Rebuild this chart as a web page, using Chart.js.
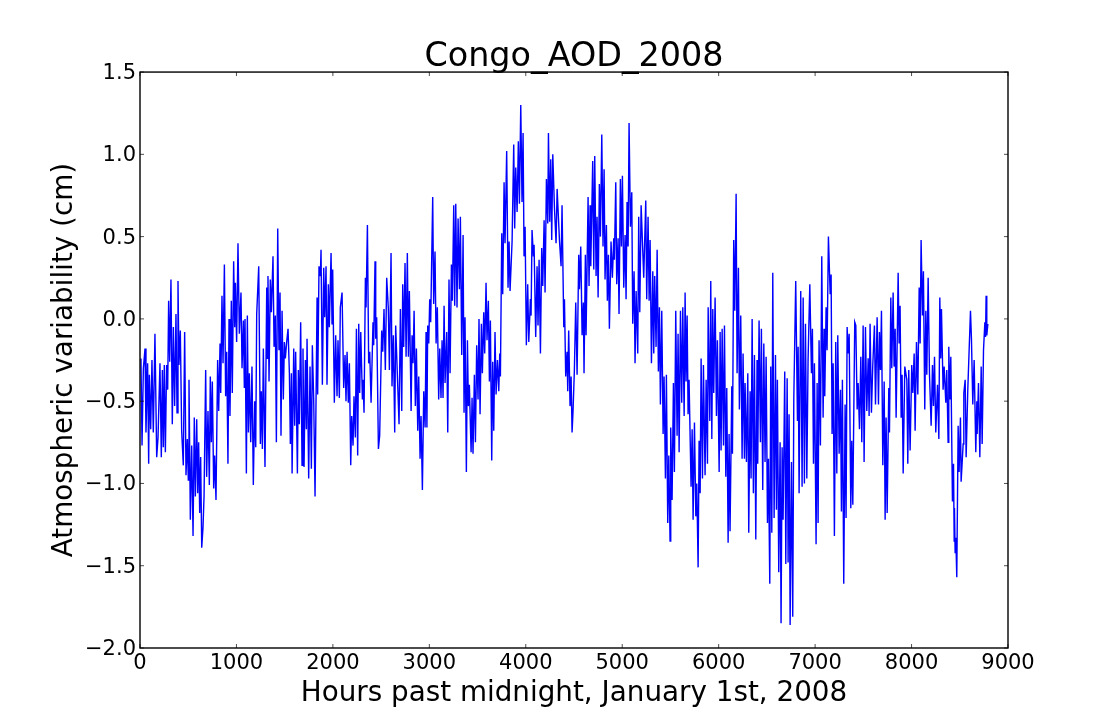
<!DOCTYPE html>
<html>
<head>
<meta charset="utf-8">
<title>Congo_AOD_2008</title>
<script src="https://cdn.jsdelivr.net/npm/chart.js@4/dist/chart.umd.min.js"></script>
<style>
    html, body { margin: 0; padding: 0; background: #ffffff; }
    canvas { display: block; }
</style>
</head>
<body>
<canvas id="aodChart" width="1120" height="720"></canvas>
<script>
// Values
const hours = [
    10,21,35,52,62,79,90,97,111,124,
    138,155,173,187,207,221,232,242,252,263,
    276,287,297,308,321,335,346,359,373,384,
    394,404,418,432,449,463,477,491,501,508,
    522,536,550,563,574,588,598,608,619,629,
    640,653,664,681,691,705,719,729,740,750,
    764,774,788,805,816,830,837,850,861,875,
    888,899,912,923,933,947,957,971,982,989,
    1002,1016,1030,1047,1058,1072,1082,1089,1103,1113,
    1124,1134,1148,1161,1175,1189,1200,1210,1231,1248,
    1258,1269,1279,1296,1314,1320,1327,1338,1351,1362,
    1379,1390,1403,1414,1428,1441,1452,1462,1473,1486,
    1497,1507,1521,1535,1549,1559,1570,1577,1594,1604,
    1614,1632,1642,1652,1666,1680,1690,1701,1715,1725,
    1732,1749,1763,1777,1787,1801,1815,1836,1842,1856,
    1870,1877,1891,1905,1915,1929,1939,1953,1963,1981,
    1991,1998,2015,2029,2043,2053,2067,2077,2095,2112,
    2126,2136,2147,2160,2171,2185,2195,2209,2219,2233,
    2244,2257,2268,2278,2289,2306,2313,2323,2337,2344,
    2358,2371,2382,2396,2416,2423,2437,2444,2454,2472,
    2485,2506,2517,2530,2544,2558,2575,2586,2603,2613,
    2627,2641,2651,2686,2700,2714,2724,2734,2748,2759,
    2772,2783,2793,2811,2821,2831,2842,2855,2866,2880,
    2890,2904,2914,2928,2942,2956,2966,2975,2983,2994,
    3004,3014,3035,3045,3059,3070,3083,3097,3108,3121,
    3132,3142,3153,3163,3180,3191,3204,3215,3229,3239,
    3253,3263,3274,3287,3298,3312,3322,3336,3350,3360,
    3370,3384,3395,3405,3415,3433,3443,3453,3467,3478,
    3491,3505,3515,3526,3540,3550,3564,3574,3588,3598,
    3612,3623,3633,3647,3657,3668,3681,3692,3706,3720,
    3730,3737,3751,3761,3775,3785,3802,3816,3827,3837,
    3858,3875,3885,3896,3910,3923,3934,3948,3961,3972,
    3982,3993,4006,4020,4031,4048,4055,4065,4079,4086,
    4103,4117,4127,4138,4152,4165,4176,4190,4200,4214,
    4228,4235,4248,4259,4269,4280,4297,4314,4325,4349,
    4366,4376,4394,4401,4414,4428,4435,4445,4459,4470,
    4480,4490,4504,4518,4532,4549,4556,4570,4584,4597,
    4604,4618,4625,4646,4656,4667,4674,4694,4705,4715,
    4729,4739,4750,4763,4774,4788,4801,4812,4822,4836,
    4846,4857,4867,4884,4898,4912,4919,4933,4943,4957,
    4967,4981,4992,5002,5016,5030,5040,5050,5061,5071,
    5085,5099,5109,5123,5133,5144,5161,5171,5182,5196,
    5223,5244,5254,5268,5279,5289,5303,5317,5327,5337,
    5351,5362,5375,5386,5396,5410,5424,5434,5448,5458,
    5472,5483,5496,5503,5517,5531,5541,5555,5569,5579,
    5590,5604,5617,5628,5642,5652,5662,5673,5683,5693,
    5714,5725,5735,5749,5763,5773,5787,5797,5808,5818,
    5832,5842,5859,5870,5884,5891,5908,5918,5929,5939,
    5949,5963,5977,5987,6005,6015,6025,6036,6050,6060,
    6074,6084,6098,6108,6118,6136,6143,6156,6167,6181,
    6191,6205,6215,6229,6243,6253,6267,6274,6288,6302,
    6312,6326,6336,6347,6360,6371,6385,6398,6405,6419,
    6433,6443,6457,6468,6481,6492,6506,6516,6530,6540,
    6551,6561,6575,6589,6599,6609,6623,6637,6647,6658,
    6668,6685,6696,6710,6720,6730,6741,6755,6768,6779,
    6799,6817,6824,6834,6851,6865,6876,6889,6900,6914,
    6927,6945,6962,6972,6983,6993,7010,7021,7031,7041,
    7055,7069,7083,7093,7100,7114,7124,7138,7156,7166,
    7176,7187,7200,7214,7225,7235,7249,7263,7273,7283,
    7297,7311,7321,7332,7342,7353,7370,7380,7391,7411,
    7422,7436,7446,7460,7474,7484,7498,7508,7522,7536,
    7550,7560,7570,7584,7598,7615,7626,7643,7657,7667,
    7678,7688,7702,7716,7726,7736,7747,7764,7771,7785,
    7795,7809,7819,7830,7840,7861,7871,7881,7892,7902,
    7913,7930,7951,7961,7971,7985,8002,8013,8027,8037,
    8051,8065,8079,8089,8099,8113,8123,8137,8148,8158,
    8172,8186,8203,8217,8227,8238,8251,8269,8283,8293,
    8303,8310,8327,8338,8355,8365,8379,8386,8397,8407,
    8424,8435,8442,8445,8452,8459,8469,8483,8493,8507,
    8514,8535,8542,8556,8566,8583,8611,8621,8635,8649,
    8666,8677,8680,8694,8708,8722,8732,8746,8760,8767,
    8773,8780,8791
];

const variability = [
    -.24,-.77,-.30,-.18,-.69,-.27,-.88,-.34,-.67,-.25,
    -.69,-.09,-.84,-.72,-.27,-.84,-.31,-.78,-.28,-.81,
    -.28,-.43,.11,-.26,.24,-.64,-.05,-.53,.03,-.57,
    .23,-.28,-.07,-.68,-.89,-.08,-.95,-.73,-.98,-.37,
    -1.22,-.77,-1.32,-.60,-1.08,-.61,-1.06,-.75,-1.18,-.84,
    -1.39,-1.27,-1.08,-.31,-.96,-.56,-1.01,-.35,-.75,-.38,
    -1.03,-.83,-1.10,-.25,-.56,-.15,-.45,.14,-.27,.33,
    -.47,-.20,-.88,0,-.59,.11,-.45,.35,-.05,.22,
    -.14,.46,-.09,.16,-.30,-.01,-.42,0,-.94,.02,
    -.69,-.33,-.75,-.29,-1.01,-.50,-.78,.03,.32,-.76,
    -.44,-.79,-.18,-.90,.19,-.24,.26,-.38,.24,.04,
    .38,-.17,.02,-.75,.55,-.19,.16,-.71,.05,-.49,
    -.14,-.24,-.14,-.06,-.33,-.76,-.33,-.94,-.18,-.65,
    -.20,-.94,-.31,-.64,-.02,-.89,-.18,-.90,-.25,-.67,
    -.12,-.97,-.29,-.91,-.16,-.49,-1.08,.13,-.46,.32,
    .26,.42,-.40,.31,.01,.32,-.40,.21,-.05,.40,
    -.03,.30,-.51,-.10,-.47,-.13,-.48,.07,.16,-.42,
    -.22,-.50,-.20,-.51,-.27,-.89,-.59,-.77,-.47,-.72,
    -.06,-.83,-.03,-.45,-.08,-.49,-.37,-.57,.25,.07,
    .57,-.27,-.20,-.51,-.02,-.16,.35,-.12,.01,-.79,
    -.71,-.07,-.20,.06,-.31,.25,.06,-.31,.40,-.41,
    -.10,-.69,-.04,-.64,.06,-.56,.21,-.17,.34,-.23,
    .40,-.23,.17,-.56,-.10,-.27,.05,-.53,-.18,-.68,
    -.35,-.85,-.59,-1.04,-.44,-.66,-.08,-.66,-.04,-.15,
    .12,-.02,.74,.09,.41,-.15,.07,-.49,-.18,-.48,
    -.13,-.48,.08,-.39,-.08,-.69,.24,-.33,.33,.11,
    .69,.08,.70,.07,.61,.18,.62,-.22,.51,-.57,
    .01,-.93,-.13,-.53,-.40,-.81,-.48,-.82,-.34,-.75,
    -.16,-.49,0,-.58,-.03,-.33,.04,-.21,.22,-.13,
    .11,-.38,-.01,-.86,-.26,-.68,-.08,-.46,-.25,-.44,
    -.21,-.35,.52,.15,.83,.46,1.02,.19,.47,.17,
    .47,1.06,.55,.92,.65,1.08,.70,1.30,.71,1.13,
    .38,.56,-.16,.21,-.14,.12,.02,.54,.38,.45,
    -.11,.32,-.04,.36,-.21,.43,.20,.60,.16,.85,
    .58,1.13,.59,.97,.48,1.0,.68,.46,.79,.48,
    .32,.69,-.05,.12,-.35,-.20,-.44,-.07,-.53,-.35,
    -.69,-.56,-.31,.10,-.34,.39,.18,.44,-.10,.10,
    -.33,.39,-.10,.74,.20,.69,.32,.96,.30,.99,
    .26,.62,.13,.82,.50,1.12,.44,.91,.24,.57,
    .11,.39,-.06,.47,.25,.49,.36,.83,.21,.49,
    .03,.85,.44,.87,.19,.51,.12,.71,.44,1.19,
    .56,.77,-.03,.29,-.27,.17,-.21,.62,.04,.69,
    .25,.72,.12,.62,.11,.48,-.27,.29,-.21,.26,
    -.17,.42,-.32,.07,-.52,.05,-.70,-.35,-.97,-.34,
    -1.24,-.83,-1.35,-.66,-1.10,-.39,-.93,.05,-.71,-.09,
    -.81,.05,-.51,.07,-.59,.16,-.38,.02,-.58,-.37,
    -1.02,-.67,-1.22,-.63,-1.20,-1.0,-1.51,-.74,-1.06,-.24,
    -.97,-.28,-.95,-.37,-.88,.07,-.62,.23,-.73,.06,
    -.45,.13,-.59,-.13,-.93,-.08,-.80,-.06,-.77,-.04,
    -.96,-.42,-1.36,-.70,-1.29,-.41,-.82,.48,.05,.76,
    -.33,.31,-.55,.02,-.85,-.21,-.85,-.39,-.87,-.33,
    -1.30,-.44,-.97,0,-1.06,-.22,-1.34,-.25,-.88,-.01,
    -.75,-.06,-1.04,-.15,-.87,-.23,-1.24,-.85,-1.61,-.29,
    -1.30,.28,-1.21,-.22,-1.16,-.37,-1.54,-.75,-1.85,-.78,
    -1.22,-.32,-1.49,-.36,-1.48,-.58,-1.86,-.87,-1.81,-.49,
    .23,-.62,-.17,-1.06,.17,-1.02,.13,-1.0,-.03,-.97,
    -.25,.21,-.33,-.06,-.88,-.27,-1.37,-.39,-1.24,-.13,
    -.77,.38,-.60,-.06,-.47,.07,-.19,.50,.15,.27,
    -.70,-.27,-1.32,-.14,-.94,-.10,-.82,-.43,-1.17,-.37,
    -1.61,-.52,-1.21,-.05,-.21,-.09,-1.15,-.74,-1.13,-.02,
    -.04,-.55,-.39,-.67,-.23,-.75,-.04,-.87,-.05,-.56,
    -.24,-.59,-.03,-.57,-.28,-.04,-.52,.01,-.52,-.08,
    -.31,.05,-.89,-.38,-1.22,-.60,-1.18,-.42,-.69,.13,
    -.30,.16,-.29,-.06,-.60,.28,-.15,.08,-.60,-.34,
    -.94,-.29,-.37,-.88,-.31,-.80,-.28,-.45,-.21,-.68,
    -.14,-.46,.19,-.15,.48,.02,.29,-.55,.05,-.34,
    .25,-.34,-.65,-.28,-.53,-.23,-.69,-.40,-.73,.13,
    -.24,.06,-.43,-.29,-.51,-.31,-.75,-.17,-.49,-.23,
    -1.11,-.88,-1.35,-1.15,-1.42,-1.33,-1.57,-.65,-.93,-.60,
    -.99,-.76,-.45,-.37,-.84,-.43,.05,-.12,-.52,-.25,
    -.81,-.50,-.70,-.39,-.84,-.29,-.76,-.19,-.02,-.11,
    .14,-.10,-.03
];

const axisMin = { x: 0, y: -2 };
const axisMax = { x: 9000, y: 1.5 };

// Inward ticks on all four sides plus the closed frame
const frameTicks = {
    id: 'frameTicks',
    afterDatasetsDraw(chart) {
        const { ctx, chartArea: a, scales } = chart;
        const len = 4;
        ctx.save();
        ctx.strokeStyle = '#000000';
        ctx.lineWidth = 0.7;
        ctx.beginPath();
        scales.x.ticks.forEach(t => {
            const px = scales.x.getPixelForValue(t.value);
            ctx.moveTo(px, a.bottom);
            ctx.lineTo(px, a.bottom - len);
            ctx.moveTo(px, a.top);
            ctx.lineTo(px, a.top + len);
        });
        scales.y.ticks.forEach(t => {
            const py = scales.y.getPixelForValue(t.value);
            ctx.moveTo(a.left, py);
            ctx.lineTo(a.left + len, py);
            ctx.moveTo(a.right, py);
            ctx.lineTo(a.right - len, py);
        });
        ctx.stroke();
        ctx.lineWidth = 1.4;
        ctx.strokeRect(a.left, a.top, a.right - a.left, a.bottom - a.top);
        ctx.restore();
    }
};

const fontFamily = '"DejaVu Sans", sans-serif';

new Chart(document.getElementById('aodChart').getContext('2d'), {
    type: 'scatter',
    data: {
        datasets: [{
            label: 'Congo_AOD_2008',
            data: hours.map((h, i) => ({ x: h, y: variability[i] })),
            showLine: true,
            borderColor: '#0000ff',
            borderWidth: 1.4,
            pointRadius: 0,
            tension: 0
        }]
    },
    options: {
        responsive: false,
        animation: false,
        layout: { padding: { left: 0, right: 112, top: 0, bottom: 0 } },
        plugins: {
            legend: { display: false },
            tooltip: { enabled: false },
            title: {
                display: true,
                text: 'Congo_AOD_2008',
                fullSize: false,
                color: '#000000',
                font: { family: fontFamily, size: 33.4, weight: 'normal', lineHeight: 0.9 },
                padding: { top: 42, bottom: 0 }
            }
        },
        scales: {
            x: {
                type: 'linear',
                min: axisMin.x,
                max: axisMax.x,
                afterFit(scale) { scale.height = 72; },
                grid: { display: false, drawTicks: false },
                border: { display: false },
                ticks: {
                    stepSize: 1000,
                    maxRotation: 0,
                    padding: 3,
                    color: '#000000',
                    font: { family: fontFamily, size: 21 },
                    callback: v => String(v)
                },
                title: {
                    display: true,
                    text: 'Hours past midnight, January 1st, 2008',
                    color: '#000000',
                    font: { family: fontFamily, size: 27.8 },
                    padding: { top: 0, bottom: 10 }
                }
            },
            y: {
                type: 'linear',
                min: axisMin.y,
                max: axisMax.y,
                afterFit(scale) { scale.width = 140; },
                grid: { display: false, drawTicks: false },
                border: { display: false },
                ticks: {
                    stepSize: 0.5,
                    padding: 4,
                    labelOffset: 1.5,
                    color: '#000000',
                    font: { family: fontFamily, size: 21 },
                    callback: v => v.toFixed(1).replace('-', '\u2212')
                },
                title: {
                    display: true,
                    text: 'Atmospheric variability (cm)',
                    color: '#000000',
                    font: { family: fontFamily, size: 27.8 },
                    padding: { top: 48, bottom: 0 }
                }
            }
        }
    },
    plugins: [frameTicks]
});
</script>
</body>
</html>
